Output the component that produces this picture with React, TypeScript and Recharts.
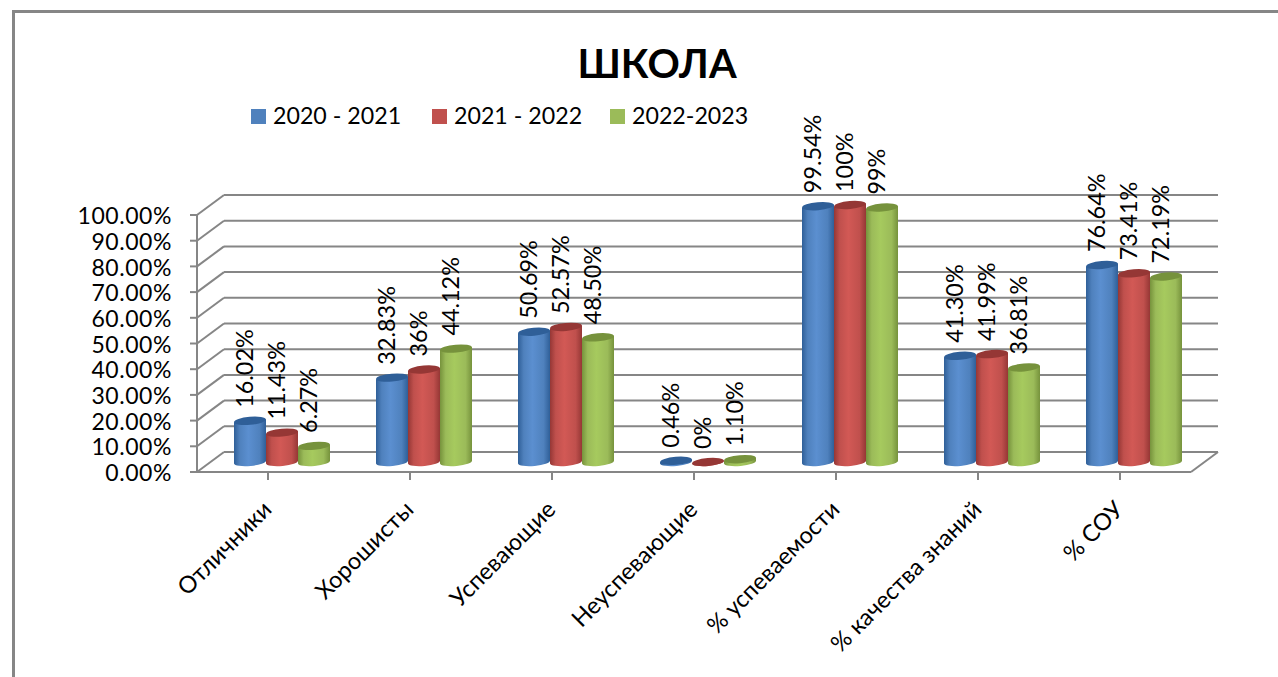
import { BarChart, Bar, XAxis, YAxis, CartesianGrid, Legend, LabelList } from 'recharts'

const FONT = 'Lato, Carlito, sans-serif'
const LINE = '#868686'

const categories = ['Отличники', 'Хорошисты', 'Успевающие', 'Неуспевающие', '% успеваемости', '% качества знаний', '% СОУ']
const values2021 = [16.02, 32.83, 50.69, 0.46, 99.54, 41.3, 76.64]
const values2022 = [11.43, 36, 52.57, 0, 100, 41.99, 73.41]
const values2023 = [6.27, 44.12, 48.5, 1.1, 99, 36.81, 72.19]
const labels2021 = ['16.02%', '32.83%', '50.69%', '0.46%', '99.54%', '41.30%', '76.64%']
const labels2022 = ['11.43%', '36%', '52.57%', '0%', '100%', '41.99%', '73.41%']
const labels2023 = ['6.27%', '44.12%', '48.50%', '1.10%', '99%', '36.81%', '72.19%']
const yTicks = [0, 10, 20, 30, 40, 50, 60, 70, 80, 90, 100]

const series = [
  { key: 'y2021', labelKey: 'l2021', name: '2020 - 2021', fill: '#4f81bd', dark: '#2f5f98', light: '#5b8fd0' },
  { key: 'y2022', labelKey: 'l2022', name: '2021 - 2022', fill: '#c0504d', dark: '#953735', light: '#d25955' },
  { key: 'y2023', labelKey: 'l2023', name: '2022-2023', fill: '#9bbb59', dark: '#76923c', light: '#a6ca5e' },
]

const data = categories.map((name, i) => ({
  name,
  y2021: values2021[i],
  y2022: values2022[i],
  y2023: values2023[i],
  l2021: labels2021[i],
  l2022: labels2022[i],
  l2023: labels2023[i],
}))

// fake 3d: bars stand a bit behind the front axis, the wall further back
const BAR_DX = 14
const BAR_DY = -10
const WALL_DX = 27
const WALL_DY = -20

function cylinder(s: (typeof series)[number]) {
  return (props: any) => {
    const { x, y, width, height } = props
    const l = x + BAR_DX
    const r = l + width
    const top = y + BAR_DY
    const bottom = top + height
    const rx = width / 2
    const ry = 4
    const tilt = 1.5
    return (
      <g>
        <path
          d={`M${l},${top + tilt} L${l},${bottom + tilt} A${rx},${ry} -5 0 0 ${r},${bottom - tilt} L${r},${top - tilt} Z`}
          fill={`url(#grad-${s.key})`}
        />
        <ellipse cx={l + rx} cy={top} rx={rx} ry={ry} fill={s.dark} transform={`rotate(-5 ${l + rx} ${top})`} />
      </g>
    )
  }
}

function barLabel(props: any) {
  const { x, y, width, value } = props
  const cx = x + width / 2 + BAR_DX - 6
  const cy = y + BAR_DY - 13
  return (
    <text
      x={cx}
      y={cy}
      transform={`rotate(-90 ${cx} ${cy})`}
      textAnchor="start"
      dominantBaseline="central"
      fontFamily={FONT}
      fontSize={23.4}
      fill="#000"
    >
      {value}
    </text>
  )
}

function gridLine(props: any) {
  const { x1, x2, y1, key } = props
  return (
    <g key={key}>
      <line x1={x1} y1={y1} x2={x1 + WALL_DX} y2={y1 + WALL_DY} stroke={LINE} strokeWidth={2} />
      <line x1={x1 + WALL_DX} y1={y1 + WALL_DY} x2={x2 + WALL_DX} y2={y1 + WALL_DY} stroke={LINE} strokeWidth={2} />
      {y1 > 470 && <line x1={x2} y1={y1} x2={x2 + WALL_DX} y2={y1 + WALL_DY} stroke={LINE} strokeWidth={2} />}
    </g>
  )
}

function categoryTick(props: any) {
  const { x, y, payload } = props
  const tx = x + 5
  const ty = y + 29
  return (
    <text
      x={tx}
      y={ty}
      transform={`rotate(-45 ${tx} ${ty})`}
      textAnchor="end"
      fontFamily={FONT}
      fontSize={23.5}
      fill="#000"
    >
      {payload.value}
    </text>
  )
}

function legendContent() {
  return (
    <div style={{ position: 'relative', height: 30, fontFamily: FONT, fontSize: 23.2, color: '#000' }}>
      {series.map((s, i) => (
        <div key={s.key} style={{ position: 'absolute', left: [0, 181, 359][i], top: 0, whiteSpace: 'nowrap' }}>
          <span style={{ display: 'inline-block', width: 15, height: 15, background: s.fill, marginRight: 7 }} />
          {s.name}
        </div>
      ))}
    </div>
  )
}

export default function App() {
  return (
    <div style={{ position: 'absolute', left: 0, top: 0, width: 1278, height: 677, overflow: 'hidden', background: '#fff' }}>
      <div style={{ position: 'absolute', left: 12, top: 10, width: 1400, height: 800, border: `3px solid ${LINE}`, boxSizing: 'border-box' }} />
      <BarChart
        width={1278}
        height={677}
        data={data}
        margin={{ top: 215, right: 87, bottom: 0, left: 0 }}
        barCategoryGap={23}
        barGap={0}
        style={{ position: 'absolute', left: 0, top: 0 }}
      >
        <defs>
          {series.map((s) => (
            <linearGradient key={s.key} id={`grad-${s.key}`} x1="0" y1="0" x2="1" y2="0">
              <stop offset="0%" stopColor={s.dark} />
              <stop offset="18%" stopColor={s.fill} />
              <stop offset="45%" stopColor={s.light} />
              <stop offset="80%" stopColor={s.fill} />
              <stop offset="100%" stopColor={s.dark} />
            </linearGradient>
          ))}
        </defs>
        <text x={657} y={78} textAnchor="middle" fontFamily={FONT} fontWeight={700} fontSize={40} fill="#000">
          ШКОЛА
        </text>
        <CartesianGrid vertical={false} horizontal={gridLine} />
        <XAxis
          dataKey="name"
          height={205}
          interval={0}
          tick={categoryTick}
          tickSize={8}
          axisLine={{ stroke: LINE, strokeWidth: 2 }}
          tickLine={{ stroke: LINE, strokeWidth: 2 }}
        />
        <YAxis
          width={197}
          domain={[0, 100]}
          ticks={yTicks}
          interval={0}
          tickFormatter={(v: number) => `${v.toFixed(2)}%`}
          tickSize={7}
          tickMargin={18}
          tick={{ fontFamily: FONT, fontSize: 23, letterSpacing: 0.55, fill: '#000', dy: 1 }}
          axisLine={{ stroke: LINE, strokeWidth: 2 }}
          tickLine={{ stroke: LINE, strokeWidth: 2 }}
        />
        <Legend
          layout="horizontal"
          verticalAlign="middle"
          align="center"
          content={legendContent}
          wrapperStyle={{ left: 251, top: 101, width: 520, height: 30 }}
        />
        {series.map((s) => (
          <Bar key={s.key} dataKey={s.key} name={s.name} fill={s.fill} shape={cylinder(s)} isAnimationActive={false}>
            <LabelList dataKey={s.labelKey} content={barLabel} />
          </Bar>
        ))}
      </BarChart>
    </div>
  )
}
